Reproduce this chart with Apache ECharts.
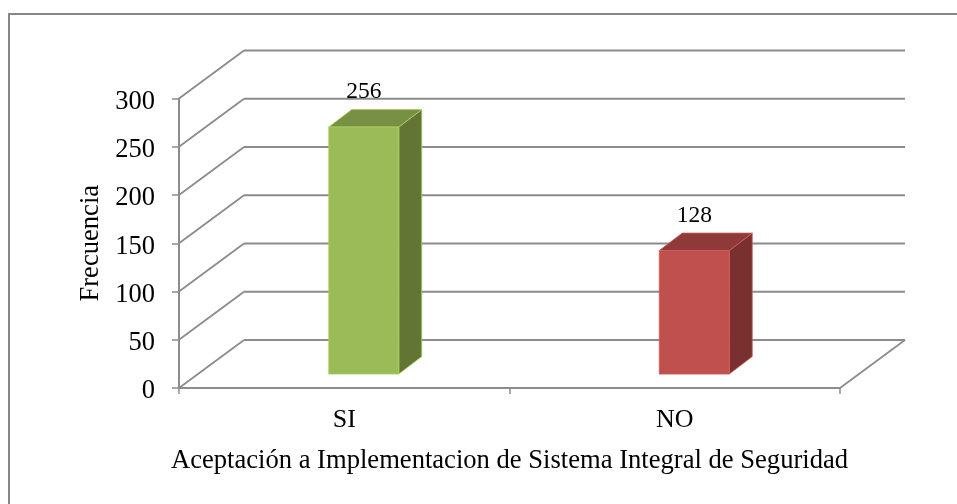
<!DOCTYPE html>
<html>
<head>
<meta charset="utf-8">
<style>html,body{margin:0;padding:0;background:#fff}#c{width:957px;height:504px}</style>
<script src="https://cdn.jsdelivr.net/npm/echarts@6/dist/echarts.min.js"></script>
</head>
<body>
<div id="c"></div>
<script>
const categories = ['SI', 'NO'];
const values = [256, 128];
const yTicks = [0, 50, 100, 150, 200, 250, 300];
const xTitle = 'Aceptación a Implementacion de Sistema Integral de Seguridad';
const yTitle = 'Frecuencia';
const FONT = '"Liberation Serif"';
const LINE = '#8c8c8c';
const DX = 65, DY = -48;
const palette = [
  { face: '#9BBB59', top: '#779043', side: '#637534', edge: '#A9D15F' },
  { face: '#C0504D', top: '#8F3A38', side: '#7A302E', edge: '#C9605C' }
];

const chart = echarts.init(document.getElementById('c'), null, { renderer: 'canvas' });

function wall(params, api) {
  const v = api.value(0);
  const cs = params.coordSys;
  const y = api.coord([0, v])[1];
  const x0 = cs.x, x1 = cs.x + cs.width;
  const seg = (a, b, lw) => ({
    type: 'line',
    shape: { x1: a[0], y1: a[1], x2: b[0], y2: b[1] },
    style: { stroke: LINE, lineWidth: lw }
  });
  const children = [
    seg([x0, y], [x0 + DX, y + DY], 1.8),
    seg([x0 + DX, y + DY], [x1 + DX, y + DY], 2)
  ];
  if (v === 0) children.push(seg([x1 + DX, y + DY], [x1, y], 1.8));
  return { type: 'group', children };
}

function bar(params, api) {
  const i = api.value(0);
  const v = api.value(1);
  const c = palette[i];
  const base = api.coord([i, 0]);
  const top = api.coord([i, v]);
  const w = 70;
  const sx = 0.3 * DX, sy = 0.29 * DY;
  const dx = 23, dy = -17.5;
  const l = base[0] - w / 2 + sx, r = l + w;
  const b = base[1] + sy, t = top[1] + sy;
  const edge = { stroke: c.edge, lineWidth: 0.8 };
  return {
    type: 'group',
    children: [
      { type: 'polygon', shape: { points: [[r, b], [r + dx, b + dy], [r + dx, t + dy], [r, t]] }, style: Object.assign({ fill: c.side }, edge) },
      { type: 'polygon', shape: { points: [[l, t], [r, t], [r + dx, t + dy], [l + dx, t + dy]] }, style: Object.assign({ fill: c.top }, edge) },
      { type: 'rect', shape: { x: l, y: t, width: w, height: b - t }, style: Object.assign({ fill: c.face }, edge) },
      { type: 'text', style: { text: String(v), x: (l + r) / 2, y: t - 35, align: 'center', verticalAlign: 'middle', fill: '#000', font: '23.5px ' + FONT } }
    ]
  };
}

chart.setOption({
  animation: false,
  backgroundColor: '#fff',
  graphic: [{
    type: 'polyline', silent: true,
    shape: { points: [[9, 504], [9, 14], [957, 14]] },
    style: { fill: null, stroke: '#868686', lineWidth: 2 }
  }],
  grid: { left: 179, right: 117, top: 98.5, bottom: 116 },
  xAxis: {
    type: 'category', data: categories,
    name: xTitle, nameLocation: 'middle', nameGap: 60,
    nameTextStyle: { fontFamily: FONT, fontSize: 26.6, color: '#000' },
    axisLine: { lineStyle: { color: LINE, width: 2 } },
    axisTick: { show: true, alignWithLabel: false, length: 6, lineStyle: { color: LINE, width: 1.5 } },
    axisLabel: { fontFamily: FONT, fontSize: 26, color: '#000', margin: 19 }
  },
  yAxis: {
    type: 'value', min: 0, max: 300, interval: 50,
    name: yTitle, nameLocation: 'middle', nameGap: 72, nameRotate: 90,
    nameTextStyle: { fontFamily: FONT, fontSize: 26.6, color: '#000' },
    axisLine: { show: true, lineStyle: { color: LINE, width: 2 } },
    axisTick: { show: true, length: 7, lineStyle: { color: LINE, width: 1.5 } },
    axisLabel: { fontFamily: FONT, fontSize: 26.5, color: '#000', margin: 24, verticalAlign: 'top', lineHeight: 7 },
    splitLine: { show: false }
  },
  series: [
    { type: 'custom', silent: true, z: 1, clip: false, renderItem: wall, encode: { y: 0 }, data: yTicks.map(v => [v]) },
    { type: 'custom', silent: true, z: 3, clip: false, renderItem: bar, encode: { x: 0, y: 1 }, data: values.map((v, i) => [i, v]) }
  ]
});
</script>
</body>
</html>
